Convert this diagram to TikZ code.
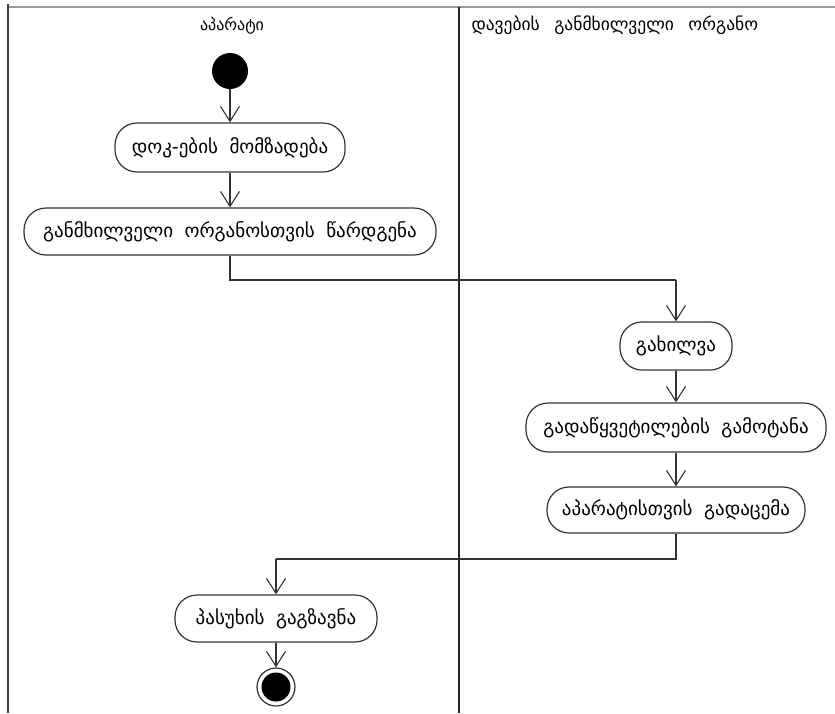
\documentclass[tikz,border=0pt]{standalone}
\usepackage{fontspec}
\setmainfont{DejaVu Sans}[WordSpace=1.9]
\newfontfamily\headwide{DejaVu Sans}[WordSpace=2.6]
\usetikzlibrary{arrows.meta}

\tikzset{
  lane/.style={line width=1.6pt, draw=black!75},
  action/.style={draw=black!80, line width=1.2pt, rounded corners=22pt,
    inner sep=0pt, align=center, font=\fontsize{19}{22}\selectfont},
  flow/.style={draw=black!80, line width=1.2pt,
    -{Straight Barb[length=15pt,width=19pt,line width=1.1pt]}},
  link/.style={draw=black!80, line width=1.2pt},
  startnode/.style={circle, fill=black, minimum size=36pt, inner sep=0pt},
  endnode/.style={circle, draw=black!80, line width=1.2pt, fill=white,
    minimum size=38pt, inner sep=0pt},
  header/.style={font=\fontsize{16}{18}\selectfont}
}

\begin{document}
\begin{tikzpicture}[x=1pt, y=-1pt]
  \useasboundingbox (0,0) rectangle (835,713);

  % swimlane frame
  \draw[line width=1.4pt, draw=black!40] (7,7) -- (835,7);
  \draw[lane] (8,4) -- (8,713);
  \draw[lane, draw=black!85] (459,7) -- (459,713);

  % lane headers
  \node[header] (h1) at (232,26) {აპარატი};
  \node[header, font=\headwide\fontsize{17.5}{19}\selectfont, anchor=west] (h2) at (468,25) {დავების განმხილველი ორგანო};

  % left lane
  \node[startnode] (start) at (230,71) {};
  \node[action, minimum width=230pt, minimum height=49pt] (a1) at (230,147.5) {დოკ-ების მომზადება};
  \node[action, minimum width=412pt, minimum height=47pt] (a2) at (230,231.5) {განმხილველი ორგანოსთვის წარდგენა};

  % right lane
  \node[action, minimum width=112pt, minimum height=48pt] (b1) at (676,346) {გახილვა};
  \node[action, minimum width=300pt, minimum height=49pt] (b2) at (676,427.5) {გადაწყვეტილების გამოტანა};
  \node[action, minimum width=258pt, minimum height=46pt] (b3) at (676,510) {აპარატისთვის გადაცემა};

  % back in the left lane
  \node[action, minimum width=202pt, minimum height=47pt] (a3) at (276,618.5) {პასუხის გაგზავნა};
  \node[endnode] (end) at (276,687) {};
  \node[circle, fill=black, minimum size=29pt, inner sep=0pt] (endfill) at (end) {};

  % bend points of the cross-lane connectors
  \coordinate (t1) at (230,280);
  \coordinate (t2) at (676,280);
  \coordinate (r1) at (676,559);
  \coordinate (r2) at (276,559);

  % control flow
  \draw[flow] (start) -- (a1);
  \draw[flow] (a1) -- (a2);
  \draw[link] (a2) -- (t1) -- (t2);
  \draw[flow] (t2) -- (b1);
  \draw[flow] (b1) -- (b2);
  \draw[flow] (b2) -- (b3);
  \draw[link] (b3) -- (r1) -- (r2);
  \draw[flow] (r2) -- (a3);
  \draw[flow] (a3) -- (end);
\end{tikzpicture}
\end{document}
